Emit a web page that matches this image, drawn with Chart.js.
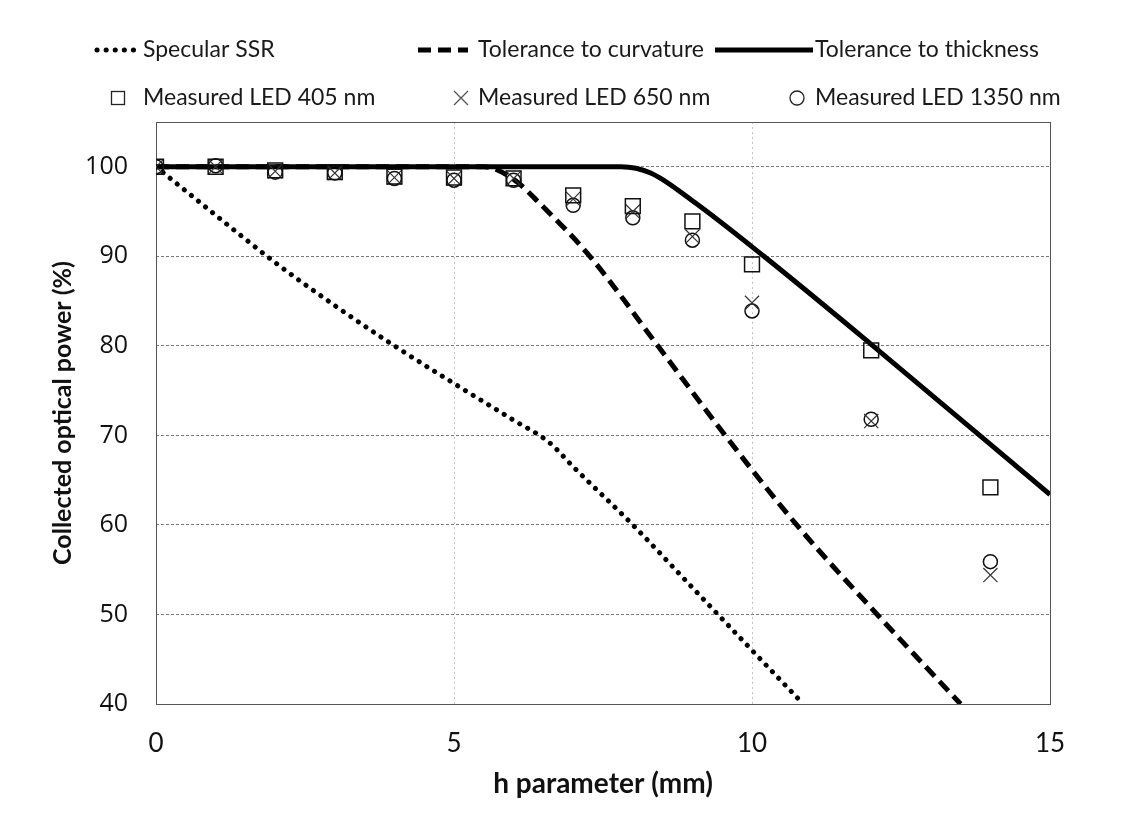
<!DOCTYPE html>
<html>
<head>
<meta charset="utf-8">
<script src="https://cdn.jsdelivr.net/npm/chart.js@4.4.1/dist/chart.umd.min.js"></script>
<style>
  body { margin: 0; background: #fff; }
  #wrap { width: 1137px; height: 839px; }
</style>
</head>
<body>
<div id="wrap"><canvas id="powerChart" width="1137" height="839"></canvas></div>
<script>
/* ---------- DATA ---------- */
const hMeasured = [0, 1, 2, 3, 4, 5, 6, 7, 8, 9, 10, 12, 14];
const led405  = [100, 100, 99.6, 99.4, 98.9, 98.8, 98.7, 96.8, 95.6, 93.9, 89.1, 79.5, 64.2];
const led650  = [100, 100, 99.5, 99.3, 98.8, 98.7, 98.7, 96.4, 95.0, 92.2, 84.8, 71.6, 54.4];
const led1350 = [100, 100.1, 99.4, 99.3, 98.7, 98.5, 98.5, 95.7, 94.3, 91.8, 83.9, 71.8, 55.9];

const hSSR        = [0, 1, 2, 3, 4, 5, 6, 6.6, 7, 8, 9, 10, 10.86];
const specularSSR = [100, 94.6, 89.3, 84.5, 80, 75.8, 71.7, 69.2, 66.5, 60, 53, 46, 40];

const hCurv        = [0, 5.5, 6, 6.44, 7.28, 8.42, 9.55, 10.75, 12.1, 13.5];
const tolCurvature = [100, 100, 98.6, 95.9, 90, 80, 70, 60, 50, 40];

const hThick       = [0, 7.8, 8.3, 9, 10.2, 12.03, 15];
const tolThickness = [100, 100, 99.3, 96.2, 90, 80, 63.4];

const xTicks = [0, 5, 10, 15];
const yTicks = [40, 50, 60, 70, 80, 90, 100];

const toPoints = (xs, ys) => xs.map((x, i) => ({ x: x, y: ys[i] }));

/* ---------- FONTS ---------- */
const SANS = "Lato, 'Open Sans', sans-serif";
const TICK_Y = "'Open Sans', sans-serif";

/* ---------- custom two-row legend ---------- */
const legendGrid = {
    id: "legendGrid",
    afterDraw(chart) {
        const ctx = chart.ctx;
        ctx.save();
        ctx.fillStyle = "#1a1a1a";
        ctx.font = "23px " + SANS;
        ctx.textBaseline = "middle";
        ctx.textAlign = "left";

        // row 1 – lines
        const row1 = 50;
        const lines = [
            { x0: 97,  x1: 137, dash: [0.1, 9], cap: "round", w: 5, text: "Specular SSR",           tx: 143 },
            { x0: 418, x1: 468, dash: [13, 7],  cap: "butt",  w: 5, text: "Tolerance to curvature", tx: 478 },
            { x0: 715, x1: 813, dash: [],       cap: "butt",  w: 5, text: "Tolerance to thickness", tx: 815 }
        ];
        lines.forEach(l => {
            ctx.beginPath();
            ctx.setLineDash(l.dash);
            ctx.lineCap = l.cap;
            ctx.lineWidth = l.w;
            ctx.strokeStyle = "#000";
            ctx.moveTo(l.x0, row1);
            ctx.lineTo(l.x1, row1);
            ctx.stroke();
            ctx.fillText(l.text, l.tx, row1);
        });
        ctx.setLineDash([]);
        ctx.lineCap = "butt";

        // row 2 – markers
        const row2 = 98;
        ctx.lineWidth = 1.3;
        ctx.strokeStyle = "#222";
        ctx.strokeRect(111.5, 91.5, 13, 13);
        ctx.fillText("Measured LED 405 nm", 143, row2);

        ctx.strokeStyle = "#555";
        ctx.beginPath();
        ctx.moveTo(454, 91); ctx.lineTo(468, 105);
        ctx.moveTo(468, 91); ctx.lineTo(454, 105);
        ctx.stroke();
        ctx.fillText("Measured LED 650 nm", 478, row2);

        ctx.strokeStyle = "#222";
        ctx.beginPath();
        ctx.arc(797, row2, 7, 0, Math.PI * 2);
        ctx.stroke();
        ctx.fillText("Measured LED 1350 nm", 815, row2);
        ctx.restore();
    }
};

/* ---------- plot frame ---------- */
const plotFrame = {
    id: "plotFrame",
    beforeDatasetsDraw(chart) {
        const { ctx, chartArea: a } = chart;
        ctx.save();
        ctx.strokeStyle = "#555";
        ctx.lineWidth = 1;
        ctx.strokeRect(Math.round(a.left) + 0.5, Math.round(a.top) + 0.5,
                       Math.round(a.right - a.left), Math.round(a.bottom - a.top));
        ctx.restore();
    }
};

const canvas = document.getElementById("powerChart");

new Chart(canvas, {
    type: "scatter",
    data: {
        datasets: [
            {
                label: "Measured LED 405 nm",
                data: toPoints(hMeasured, led405),
                pointStyle: "rect",
                pointRadius: 10.5,
                borderColor: "#111",
                borderWidth: 1.5,
                backgroundColor: "rgba(0,0,0,0)"
            },
            {
                label: "Measured LED 650 nm",
                data: toPoints(hMeasured, led650),
                pointStyle: "crossRot",
                pointRadius: 10,
                borderColor: "#333",
                borderWidth: 1.2,
                backgroundColor: "rgba(0,0,0,0)"
            },
            {
                label: "Measured LED 1350 nm",
                data: toPoints(hMeasured, led1350),
                pointStyle: "circle",
                pointRadius: 7,
                borderColor: "#111",
                borderWidth: 1.5,
                backgroundColor: "rgba(0,0,0,0)"
            },
            {
                label: "Specular SSR",
                type: "line",
                data: toPoints(hSSR, specularSSR),
                showLine: true,
                pointRadius: 0,
                borderColor: "#000",
                borderWidth: 5,
                borderDash: [0.1, 9],
                borderCapStyle: "round",
                cubicInterpolationMode: "monotone"
            },
            {
                label: "Tolerance to curvature",
                type: "line",
                data: toPoints(hCurv, tolCurvature),
                showLine: true,
                pointRadius: 0,
                borderColor: "#000",
                borderWidth: 5,
                borderDash: [13, 7],
                cubicInterpolationMode: "monotone"
            },
            {
                label: "Tolerance to thickness",
                type: "line",
                data: toPoints(hThick, tolThickness),
                showLine: true,
                pointRadius: 0,
                borderColor: "#000",
                borderWidth: 5,
                cubicInterpolationMode: "monotone"
            }
        ]
    },
    options: {
        responsive: false,
        animation: false,
        layout: {
            padding: { top: 122, right: 87, bottom: 34, left: 44 }
        },
        plugins: {
            legend: { display: false },
            tooltip: { enabled: false }
        },
        scales: {
            x: {
                type: "linear",
                min: 0,
                max: 15,
                afterBuildTicks: s => { s.ticks = xTicks.map(v => ({ value: v })); },
                afterFit: s => { s.height = 101; s.paddingLeft = 0; s.paddingRight = 0; },
                ticks: {
                    color: "#111",
                    padding: 24,
                    font: { family: SANS, size: 26 }
                },
                grid: {
                    drawTicks: false,
                    color: c => (c.tick.value === 5 || c.tick.value === 10) ? "#c4c4c4" : "rgba(0,0,0,0)",
                    lineWidth: 1
                },
                border: { display: false, dash: [2, 3] },
                title: {
                    display: true,
                    text: "h parameter (mm)",
                    color: "#111",
                    font: { family: SANS, size: 28, weight: "bold" }
                }
            },
            y: {
                min: 40,
                max: 105,
                afterBuildTicks: s => { s.ticks = yTicks.map(v => ({ value: v })); },
                afterFit: s => { s.width = 112; s.paddingTop = 0; s.paddingBottom = 0; },
                ticks: {
                    color: "#111",
                    padding: 28,
                    font: { family: TICK_Y, size: 25 }
                },
                grid: {
                    drawTicks: false,
                    color: c => (c.tick.value > 40 && c.tick.value <= 100) ? "#7a7a7a" : "rgba(0,0,0,0)",
                    lineWidth: 1
                },
                border: { display: false, dash: [3, 2] },
                title: {
                    display: true,
                    text: "Collected optical power (%)",
                    color: "#111",
                    font: { family: SANS, size: 25, weight: "bold" }
                }
            }
        }
    },
    plugins: [plotFrame, legendGrid]
});
</script>
</body>
</html>
